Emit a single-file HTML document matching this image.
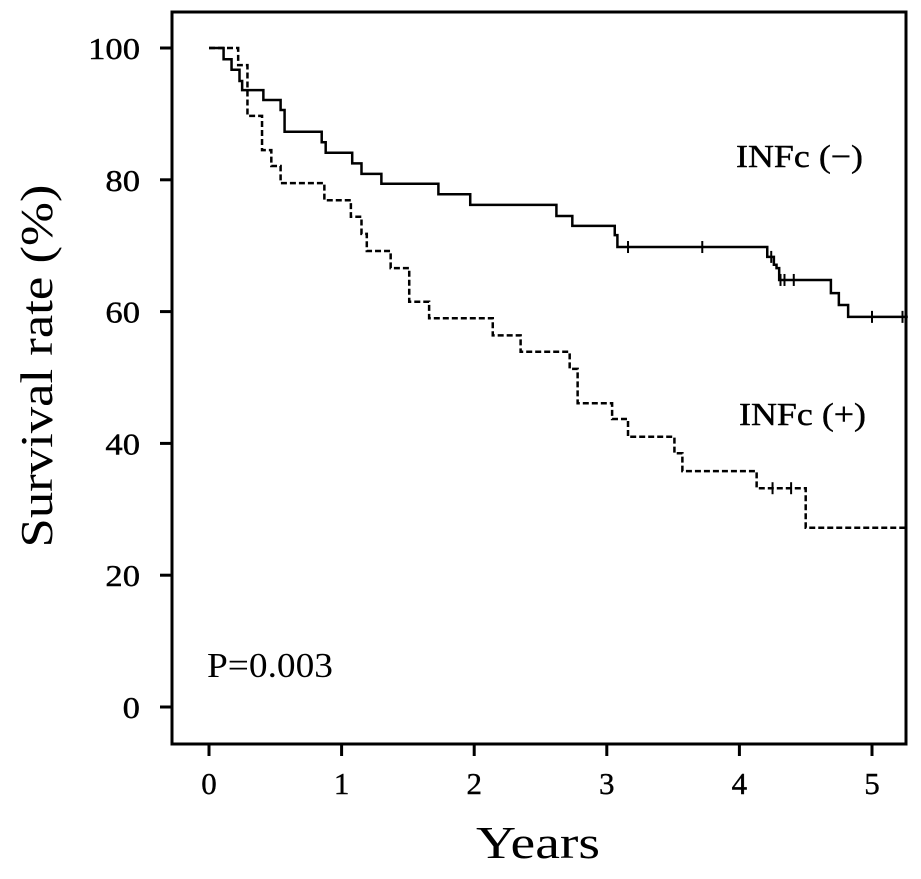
<!DOCTYPE html>
<html><head><meta charset="utf-8"><style>
html,body{margin:0;padding:0;background:#fff;}
svg text{font-family:"Liberation Serif","DejaVu Serif",serif;fill:#000;}
</style></head><body>
<svg id="chart" width="921" height="874" xmlns="http://www.w3.org/2000/svg">
<rect x="172" y="12" width="734" height="732" fill="none" stroke="#000" stroke-width="3"/>
<g id="axes"></g>
<g id="series"></g>
<text x="52" y="366" font-size="46" text-anchor="middle" textLength="363" lengthAdjust="spacingAndGlyphs" transform="rotate(-90 52 366)">Survival rate (%)</text>
<text x="538" y="858" font-size="46" text-anchor="middle" textLength="124" lengthAdjust="spacingAndGlyphs">Years</text>
<text x="736" y="167" font-size="32" textLength="127" lengthAdjust="spacingAndGlyphs" stroke="#000" stroke-width="0.4">INFc (−)</text>
<text x="739" y="425" font-size="32" textLength="127" lengthAdjust="spacingAndGlyphs" stroke="#000" stroke-width="0.4">INFc (+)</text>
<text x="207" y="677" font-size="35" textLength="126" lengthAdjust="spacingAndGlyphs">P=0.003</text>
</svg>
<script>
const xTicks=[0,1,2,3,4,5];
const yTicks=[0,20,40,60,80,100];
const negTimes=[0,0.11,0.17,0.23,0.25,0.41,0.54,0.57,0.85,0.88,1.08,1.15,1.30,1.73,1.97,2.62,2.74,3.06,3.08,4.21,4.26,4.28,4.30,4.69,4.75,4.82];
const negValues=[100,98.3,96.7,95,93.6,92.1,90.6,87.3,85.7,84.1,82.5,80.9,79.4,77.8,76.2,74.5,73.0,71.6,69.8,68.3,67.1,66.6,64.8,62.8,61.0,59.2];
const negCensor=[3.16,3.72,4.24,4.31,4.34,4.41,5.0,5.23];
const posTimes=[0,0.22,0.29,0.40,0.47,0.54,0.87,1.07,1.15,1.19,1.37,1.51,1.66,2.14,2.35,2.72,2.78,3.04,3.16,3.51,3.57,4.13,4.50];
const posValues=[100,97.4,89.7,84.5,82.1,79.5,76.9,74.4,71.8,69.2,66.6,61.5,59.0,56.4,53.9,51.3,46.1,43.7,41.0,38.5,35.8,33.2,27.2];
const posCensor=[4.25,4.39];
const xEnd=5.27;
const NS='http://www.w3.org/2000/svg';
function xs(t){return 209+t*132.6;}
function ys(v){return 707-v*6.59;}
const axes=document.getElementById('axes'),series=document.getElementById('series');
function mk(tag,attrs,parent){const e=document.createElementNS(NS,tag);for(const k in attrs)e.setAttribute(k,attrs[k]);parent.appendChild(e);return e;}
xTicks.forEach(t=>{
 const l=mk('line',{x1:xs(t),x2:xs(t),y1:744,y2:756,stroke:'#000','stroke-width':3},axes);
 
 
 const tx=mk('text',{x:xs(t),y:794,'font-size':31,'text-anchor':'middle',stroke:'#000','stroke-width':0.4},axes);tx.textContent=t;
 
 
});
yTicks.forEach(v=>{
 const l=mk('line',{x1:160,x2:172,y1:ys(v),y2:ys(v),stroke:'#000','stroke-width':3},axes);
 
 
 const s=String(v);
 const tx=mk('text',{x:140,y:ys(v)+11,'font-size':31,'text-anchor':'end',stroke:'#000','stroke-width':0.4,textLength:s.length*17.3,lengthAdjust:'spacingAndGlyphs'},axes);tx.textContent=s;
 
 
});
function stepPath(times,vals){
 let d='M'+xs(times[0])+' '+ys(vals[0]);
 for(let i=1;i<times.length;i++){d+=' H'+xs(times[i])+' V'+ys(vals[i]);}
 d+=' H'+xs(xEnd);return d;
}
function valAt(times,vals,t){let v=vals[0];for(let i=0;i<times.length;i++){if(times[i]<=t)v=vals[i];}return v;}
const pn=mk('path',{d:stepPath(negTimes,negValues),fill:'none',stroke:'#000','stroke-width':2.5},series);


const pp=mk('path',{d:stepPath(posTimes,posValues),fill:'none',stroke:'#000','stroke-width':2.5,'stroke-dasharray':'6 3'},series);


function censors(arr,times,vals,name){arr.forEach(t=>{const y=ys(valAt(times,vals,t));
 const c=mk('line',{x1:xs(t),x2:xs(t),y1:y-6,y2:y+6,stroke:'#000','stroke-width':2},series);
 
 });}
censors(negCensor,negTimes,negValues,'censor-mark-negative');
censors(posCensor,posTimes,posValues,'censor-mark-positive');
</script>
</body></html>
